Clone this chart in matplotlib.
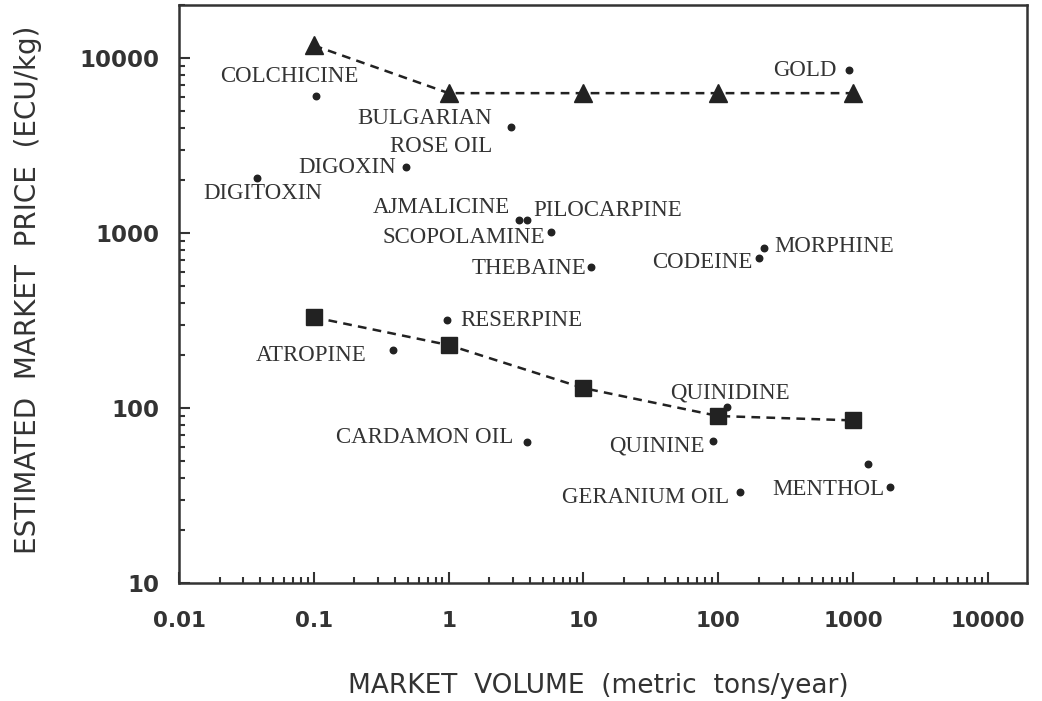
import matplotlib
matplotlib.use("Agg")
import matplotlib.pyplot as plt
from matplotlib.ticker import FixedLocator, FixedFormatter, LogLocator, NullFormatter

# upper curve (triangles) and lower curve (squares)
tri_x = [0.1, 1, 10, 100, 1000]
tri_y = [11800, 6300, 6300, 6300, 6300]
sq_x = [0.1, 1, 10, 100, 1000]
sq_y = [330, 229, 130, 90, 85]

# individual products
names = ["COLCHICINE", "GOLD", "BULGARIAN\nROSE OIL", "DIGOXIN", "DIGITOXIN",
         "AJMALICINE", "PILOCARPINE", "SCOPOLAMINE", "THEBAINE", "CODEINE",
         "MORPHINE", "RESERPINE", "ATROPINE", "CARDAMON OIL", "QUINIDINE",
         "QUININE", "GERANIUM OIL", "MENTHOL", ""]
vol = [0.104, 927, 2.92, 0.48, 0.038,
       3.3, 3.8, 5.75, 11.3, 201,
       219, 0.98, 0.386, 3.83, 116,
       92, 145, 1890, 1280]
price = [6070, 8500, 4030, 2380, 2060,
         1190, 1190, 1015, 640, 720,
         820, 318, 214, 64, 101,
         65, 33, 35.4, 47.9]

x_ticks = [0.01, 0.1, 1, 10, 100, 1000, 10000]
x_labels = ["0.01", "0.1", "1", "10", "100", "1000", "10000"]
y_ticks = [10, 100, 1000, 10000]
y_labels = ["10", "100", "1000", "10000"]

# label placement: (ha, dx, dy) in points
place = [("center", -19, 14), ("right", -9, 0), ("right", -14, -4), ("right", -7, 0),
         ("center", 4, -11), ("right", -6, 9), ("left", 5, 7), ("right", -4, -4),
         ("right", -3, -1), ("right", -5, -3), ("left", 7, 1), ("left", 9, 0),
         ("right", -19, -4), ("right", -10, 3), ("center", 2, 10), ("right", -6, -4),
         ("right", -8, -4), ("right", -4, -2), ("left", 0, 0)]

fig = plt.figure(figsize=(10.42, 7.01), dpi=100)
ax = fig.add_axes([0.1718, 0.1683, 0.8138, 0.8246])

ax.plot(tri_x, tri_y, color="#222222", ls=(0, (3.5, 2.5)), lw=1.8,
        marker="^", ms=13, mfc="#222222", mec="#222222")
ax.plot(sq_x, sq_y, color="#222222", ls=(0, (3.5, 2.5)), lw=1.8,
        marker="s", ms=11, mfc="#222222", mec="#222222")
ax.scatter(vol, price, s=22, color="#222222", zorder=3)

for n, x, y, (ha, dx, dy) in zip(names, vol, price, place):
    if n:
        ax.annotate(n, (x, y), xytext=(dx, dy), textcoords="offset points",
                    ha=ha, va="center", multialignment="right", linespacing=1.45,
                    fontsize=16.5, family="Liberation Serif", color="#333333")

ax.set_xscale("log")
ax.set_yscale("log")
ax.set_xlim(0.01, 19500)
ax.set_ylim(10, 20100)

ax.xaxis.set_major_locator(FixedLocator(x_ticks))
ax.xaxis.set_major_formatter(FixedFormatter(x_labels))
ax.yaxis.set_major_locator(FixedLocator(y_ticks))
ax.yaxis.set_major_formatter(FixedFormatter(y_labels))
ax.xaxis.set_minor_locator(LogLocator(base=10, subs=range(2, 10), numticks=20))
ax.yaxis.set_minor_locator(LogLocator(base=10, subs=range(2, 10), numticks=20))
ax.xaxis.set_minor_formatter(NullFormatter())
ax.yaxis.set_minor_formatter(NullFormatter())

ax.tick_params(which="both", direction="in", top=False, right=False,
               color="#333333", width=1.5)
ax.tick_params(which="major", length=8)
ax.tick_params(which="minor", length=4)
ax.tick_params(axis="x", which="major", pad=20)
ax.tick_params(axis="y", which="major", pad=14)
for lab in ax.get_xticklabels():
    lab.set_fontsize(15.5)
    lab.set_fontweight("bold")
    lab.set_color("#333333")
for lab in ax.get_yticklabels():
    lab.set_fontsize(16.5)
    lab.set_fontweight("bold")
    lab.set_color("#333333")

for sp in ax.spines.values():
    sp.set_linewidth(1.8)
    sp.set_color("#333333")

fig.text(0.574, 0.021, "MARKET  VOLUME  (metric  tons/year)", ha="center",
         va="center", fontsize=19, color="#333333")
fig.text(0.027, 0.586, "ESTIMATED  MARKET  PRICE  (ECU/kg)", ha="center",
         va="center", rotation=90, fontsize=20, color="#333333")

fig.savefig("out.png", dpi=100)
